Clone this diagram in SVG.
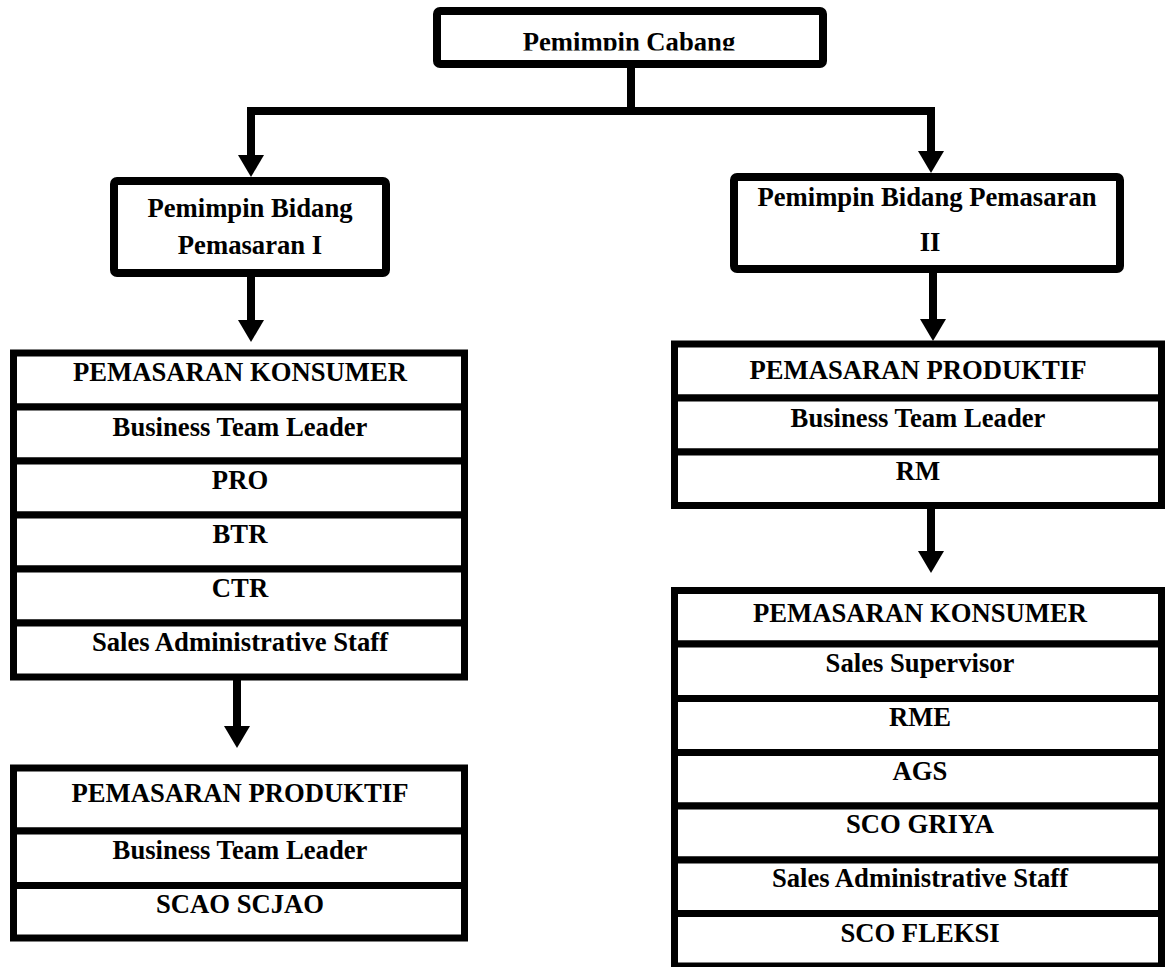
<svg xmlns="http://www.w3.org/2000/svg" width="1166" height="967" viewBox="0 0 1166 967">
<style>
text{font-family:"Liberation Serif","Times New Roman",serif;font-weight:bold;font-size:26.67px;fill:#000;text-anchor:middle}
.box{fill:#fff;stroke:#000;stroke-width:8;stroke-linejoin:round}
.row{fill:#fff;stroke:#000;stroke-width:7}
.con{fill:none;stroke:#000;stroke-width:8}
</style>
<defs>
<marker id="ah" markerUnits="userSpaceOnUse" viewBox="0 -13 22 26" markerWidth="22" markerHeight="26" refX="0" refY="0" orient="auto">
<path d="M0,-13 L22,0 L0,13 Z" fill="#000"/>
</marker>
<clipPath id="clipTop"><rect x="437" y="11" width="386" height="39.5"/></clipPath>
</defs>
<rect width="1166" height="967" fill="#fff"/>
<g id="connectors">
<path class="con" d="M631,68 V111 H251 V155" marker-end="url(#ah)"/>
<path class="con" d="M631,111 H931 V151" marker-end="url(#ah)"/>
<path class="con" d="M251,277 V320" marker-end="url(#ah)"/>
<path class="con" d="M933,273 V319" marker-end="url(#ah)"/>
<path class="con" d="M237,680 V726" marker-end="url(#ah)"/>
<path class="con" d="M931,509 V551" marker-end="url(#ah)"/>
</g>
<g id="pemimpin-cabang">
<rect class="box" x="437" y="11" width="386" height="53" rx="3"/>
<text x="629" y="51" clip-path="url(#clipTop)">Pemimpin Cabang</text>
</g>
<g id="pemimpin-bidang-1">
<rect class="box" x="114" y="181" width="272" height="92" rx="3"/>
<text x="250" y="217">Pemimpin Bidang</text>
<text x="250" y="254">Pemasaran I</text>
</g>
<g id="pemimpin-bidang-2">
<rect class="box" x="734" y="177" width="386" height="92" rx="3"/>
<text x="927" y="206">Pemimpin Bidang Pemasaran</text>
<text x="930" y="251">II</text>
</g>
<g id="left-konsumer">
<rect class="row" x="13.5" y="353" width="451" height="54"/>
<rect class="row" x="13.5" y="407" width="451" height="54"/>
<rect class="row" x="13.5" y="461" width="451" height="54"/>
<rect class="row" x="13.5" y="515" width="451" height="54"/>
<rect class="row" x="13.5" y="569" width="451" height="54"/>
<rect class="row" x="13.5" y="623" width="451" height="54"/>
<text x="240" y="381">PEMASARAN KONSUMER</text>
<text x="240" y="436">Business Team Leader</text>
<text x="240" y="489">PRO</text>
<text x="240" y="543">BTR</text>
<text x="240" y="597">CTR</text>
<text x="240" y="651">Sales Administrative Staff</text>
</g>
<g id="left-produktif">
<rect class="row" x="13.5" y="768" width="451" height="63"/>
<rect class="row" x="13.5" y="831" width="451" height="54.5"/>
<rect class="row" x="13.5" y="885.5" width="451" height="52.5"/>
<text x="240" y="802">PEMASARAN PRODUKTIF</text>
<text x="240" y="859">Business Team Leader</text>
<text x="240" y="913">SCAO SCJAO</text>
</g>
<g id="right-produktif">
<rect class="row" x="674.5" y="344" width="487" height="54"/>
<rect class="row" x="674.5" y="398" width="487" height="54"/>
<rect class="row" x="674.5" y="452" width="487" height="53.5"/>
<text x="918" y="379">PEMASARAN PRODUKTIF</text>
<text x="918" y="427">Business Team Leader</text>
<text x="918" y="480">RM</text>
</g>
<g id="right-konsumer">
<rect class="row" x="674.5" y="590.5" width="487" height="53.5"/>
<rect class="row" x="674.5" y="644" width="487" height="54.5"/>
<rect class="row" x="674.5" y="698.5" width="487" height="54"/>
<rect class="row" x="674.5" y="752.5" width="487" height="53.5"/>
<rect class="row" x="674.5" y="806" width="487" height="54"/>
<rect class="row" x="674.5" y="860" width="487" height="53.5"/>
<rect class="row" x="674.5" y="913.5" width="487" height="52.5"/>
<text x="920" y="622">PEMASARAN KONSUMER</text>
<text x="920" y="672">Sales Supervisor</text>
<text x="920" y="726">RME</text>
<text x="920" y="780">AGS</text>
<text x="920" y="833">SCO GRIYA</text>
<text x="920" y="887">Sales Administrative Staff</text>
<text x="920" y="942">SCO FLEKSI</text>
</g>
</svg>
